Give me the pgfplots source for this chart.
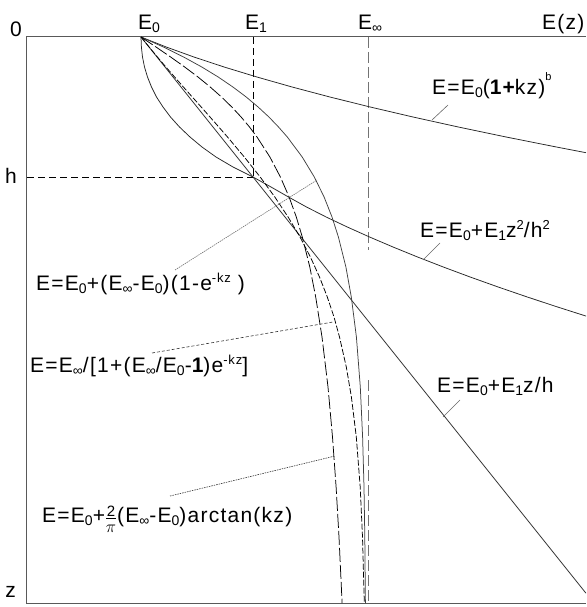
\documentclass[border=0pt]{standalone}
\usepackage{fontspec}
\setmainfont{Liberation Sans}
\newfontfamily\lblfont{Liberation Sans}[LetterSpace=6]
\usepackage{pgfplots}
\pgfplotsset{compat=1.18}

\newcommand\lbl{\lblfont\fontsize{21}{25}\selectfont}
\newcommand\sub[1]{\raisebox{-3pt}{\fontsize{14}{14}\selectfont #1}}
\newcommand\sups[1]{\raisebox{8pt}{\fontsize{13}{13}\selectfont #1}}
% stacked 2/pi
\newcommand\twopi{\makebox[12pt][c]{%
  \makebox[0pt][c]{\raisebox{6pt}{\fontsize{15}{15}\selectfont 2}}%
  \makebox[0pt][c]{\raisebox{3.6pt}{\rule{10pt}{0.8pt}}}%
  \makebox[0pt][c]{\raisebox{-10pt}{\fontsize{17}{17}\selectfont$\pi$}}}}

\begin{document}
\begin{tikzpicture}
\useasboundingbox (-27pt,-4pt) rectangle (559pt,603pt);
\begin{axis}[
  scale only axis, width=559pt, height=566pt,
  at={(0,0)}, anchor=south west,
  xmin=0, xmax=559, ymin=0, ymax=566, y dir=reverse,
  hide axis, clip mode=individual,
  curve/.style={line width=0.75pt, black!85, no markers, solid},
]
% frame
\draw[black!65, line width=1pt] (axis cs:559,0) -- (axis cs:0,0) -- (axis cs:0,566) -- (axis cs:559,566);

% reference levels E1, h, E_inf
\addplot[black, no markers, line width=0.8pt, dash pattern=on 7pt off 4pt] coordinates {(226,0) (226,140)};
\addplot[black, no markers, line width=0.8pt, dash pattern=on 7pt off 4pt] coordinates {(0,140) (226,140)};
\addplot[black!55, no markers, line width=1pt, dash pattern=on 11pt off 4pt] coordinates {(341,0) (341,213)};
\addplot[black!55, no markers, line width=1pt, dash pattern=on 11pt off 4pt] coordinates {(341,343) (341,566)};

% E = E0 (1+kz)^b
\addplot[curve] coordinates {(114,0) (139.2,10) (166.9,20) (197.1,30) (229.9,40) (265.1,50)
  (302.9,60) (343.2,70) (386.0,80) (431.3,90) (479.1,100) (529.4,110) (559,115.7)};
% E = E0 + E1 z^2/h^2
\addplot[curve] coordinates {(114,0) (114.4,10) (115.5,20) (117.5,30) (120.5,40) (124.5,50)
  (129.5,60) (136,70) (143.5,80) (152.5,90) (163,100) (175,110) (189,120)
  (206,130) (226.0,140) (244,150) (261.5,160) (279.5,170) (299.14,180) (320.29,190)
  (342.57,200) (366.0,210) (390.57,220) (416.29,230) (443.14,240) (471.14,250) (500.29,260)
  (530.57,270) (559.1,279.1)};
% E = E0 + E1 z/h
\addplot[curve] coordinates {(114,0) (559,556.25)};
% E = E0 + (Einf-E0)(1-exp(-kz))
\addplot[curve, black!75] coordinates {(114,0) (136.4,10) (156.6,20) (174.8,30) (191.2,40) (205.9,50)
  (219.2,60) (231.1,70) (241.9,80) (251.5,90) (260.3,100) (275.2,120) (287.3,140)
  (297.1,160) (305.0,180) (311.4,200) (318.9,230) (324.3,260) (329.4,300) (333.3,350)
  (335.6,400) (337.0,450) (337.8,500) (338.4,566)};
% E = Einf / [1 + (Einf/E0 - 1) exp(-kz)]
\addplot[curve, black, dash pattern=on 6pt off 2pt] coordinates {(114,0) (122.1,10) (130.4,20) (138.9,30)
  (147.6,40) (156.4,50) (165.3,60) (174.2,70) (183.0,80) (191.8,90) (200.5,100) (217.3,120)
  (233.2,140) (247.8,160) (261.1,180) (273.0,200) (283.4,220) (292.5,240) (300.3,260)
  (307.0,280) (312.5,300) (319.3,330) (324.4,360) (329.3,400) (333.2,450) (335.5,500) (337.3,566)};
% E = E0 + 2/pi (Einf-E0) arctan(kz)
\addplot[curve, black, dash pattern=on 14pt off 3pt] coordinates {(114,0) (129.0,10) (143.6,20) (157.7,30)
  (171.0,40) (183.2,50) (194.5,60) (204.8,70) (214.1,80) (222.5,90) (230.0,100) (242.9,120)
  (253.4,140) (262.1,160) (269.3,180) (275.3,200) (282.8,230) (288.7,260) (295.0,300)
  (301.0,350) (305.5,400) (309.1,450) (312.0,500) (315.1,566)};

% leaders
\draw[black!60, line width=0.6pt] (axis cs:421,68) -- (axis cs:405,83);
\draw[black!60, line width=0.6pt] (axis cs:413,206) -- (axis cs:396,223);
\draw[black!60, line width=0.6pt] (axis cs:433,363) -- (axis cs:416,380);
\draw[black!55, line width=0.6pt, dash pattern=on 1.5pt off 0.8pt] (axis cs:148,233) -- (axis cs:290,143);
\draw[black!80, line width=0.6pt, dash pattern=on 3pt off 2pt] (axis cs:125,316) -- (axis cs:306,285);
\draw[black!80, line width=0.6pt, dash pattern=on 1.5pt off 1pt] (axis cs:143,459) -- (axis cs:308,419);

% axis labels
\node[anchor=base west, inner sep=0pt, font=\lbl] at (axis cs:111,-7) {E\sub{0}};
\node[anchor=base west, inner sep=0pt, font=\lbl] at (axis cs:218,-7) {E\sub{1}};
\node[anchor=base west, inner sep=0pt, font=\lbl] at (axis cs:331,-7) {E\sub{∞}};
\node[anchor=base west, inner sep=0pt, font=\lbl] at (axis cs:515,-7) {E(z)};
\node[anchor=base east, inner sep=0pt, font=\lbl] at (axis cs:-5,0) {0};
\node[anchor=base east, inner sep=0pt, font=\lbl] at (axis cs:-10,146) {h};
\node[anchor=base east, inner sep=0pt, font=\lbl] at (axis cs:-11,560) {z};

% curve labels
\node[anchor=base west, inner sep=0pt, font=\lbl] at (axis cs:405,58)
  {E=E\sub{0}({\bfseries 1+}kz)\raisebox{14pt}{\fontsize{11}{11}\selectfont b}};
\node[anchor=base west, inner sep=0pt, font=\lbl] at (axis cs:393,200)
  {E=E\sub{0}+E\sub{1}z\sups{2}/h\sups{2}};
\node[anchor=base west, inner sep=0pt, font=\lbl] at (axis cs:410,355)
  {E=E\sub{0}+E\sub{1}z/h};
\node[anchor=base west, inner sep=0pt, font=\lbl] at (axis cs:9,253)
  {E=E\sub{0}+(E\sub{∞}-E\sub{0})(1-e\sups{-kz} )};
\node[anchor=base west, inner sep=0pt, font=\lbl] at (axis cs:3,335)
  {E=E\sub{∞}/[1+(E\sub{∞}/E\sub{0}-{\bfseries 1})e\sups{-kz}]};
\node[anchor=base west, inner sep=0pt, font=\lbl] at (axis cs:15,485)
  {E=E\sub{0}+\twopi(E\sub{∞}-E\sub{0})arctan(kz)};
\end{axis}
\end{tikzpicture}
\end{document}
